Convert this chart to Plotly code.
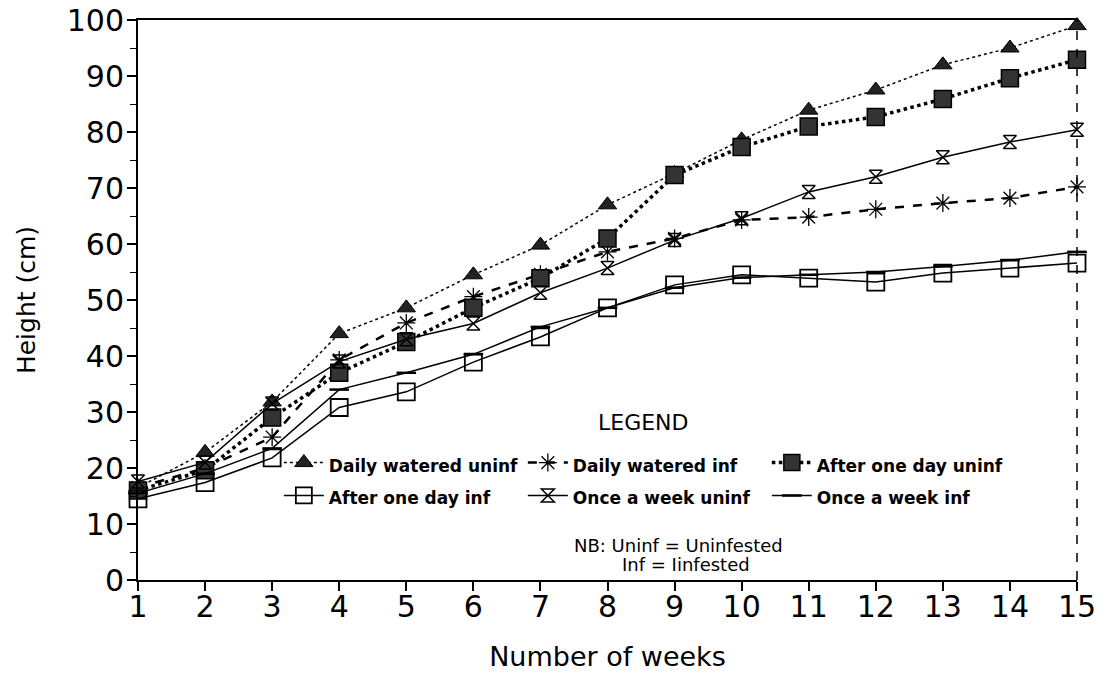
import plotly.graph_objects as go

weeks = list(range(1, 16))
week_labels = [str(w) for w in weeks]

daily_watered_uninf = [16.5, 22.8, 31.8, 44.0, 48.6, 54.5, 59.8, 67.0, 72.6, 78.6, 83.9, 87.5, 92.0, 95.0, 99.0]
daily_watered_inf = [16.5, 20.0, 25.5, 39.3, 45.9, 50.6, 54.6, 58.6, 61.0, 64.3, 64.8, 66.2, 67.3, 68.2, 70.2]
after_one_day_uninf = [16.0, 19.6, 29.0, 37.0, 42.5, 48.6, 53.9, 61.0, 72.3, 77.3, 81.0, 82.7, 85.9, 89.6, 92.9]
after_one_day_inf = [14.5, 17.4, 21.8, 30.8, 33.6, 38.9, 43.4, 48.6, 52.7, 54.5, 53.9, 53.2, 54.8, 55.7, 56.6]
once_week_uninf = [17.6, 21.0, 31.5, 39.0, 43.0, 45.8, 51.3, 55.7, 60.7, 64.6, 69.3, 72.0, 75.5, 78.2, 80.4]
once_week_inf = [15.5, 19.0, 23.5, 34.0, 37.0, 40.3, 45.2, 48.6, 52.2, 54.0, 54.5, 55.0, 56.0, 57.1, 58.6]

series = [
    ("Daily watered uninf", daily_watered_uninf,
     dict(color="black", width=1.5, dash="dot"),
     dict(symbol="triangle-up", size=16, color="#222222", line=dict(color="black", width=1))),
    ("Daily watered inf", daily_watered_inf,
     dict(color="black", width=2.5, dash="dash"),
     dict(symbol="asterisk-open", size=15, color="black", line=dict(color="black", width=1.3))),
    ("After one day uninf", after_one_day_uninf,
     dict(color="black", width=3.5, dash="dot"),
     dict(symbol="square", size=17, color="#333333", line=dict(color="black", width=1.5))),
    ("After one day inf", after_one_day_inf,
     dict(color="black", width=1.5),
     dict(symbol="square-open", size=17, color="black", line=dict(color="black", width=1.8))),
    ("Once a week uninf", once_week_uninf,
     dict(color="black", width=1.5),
     dict(symbol="hourglass-open", size=13, color="black", line=dict(color="black", width=1.5))),
    ("Once a week inf", once_week_inf,
     dict(color="black", width=1.5),
     dict(symbol="line-ew-open", size=14, color="black", line=dict(color="black", width=2.5))),
]

fig = go.Figure()
for name, vals, ln, mk in series:
    fig.add_trace(go.Scatter(
        x=weeks, y=vals,
        name='<span style="font-size:17px"><b>' + name + "</b></span>",
        mode="lines+markers", line=ln, marker=mk, cliponaxis=False,
    ))

fig.update_layout(
    width=1110, height=675,
    margin=dict(l=138, r=33, t=20, b=95, autoexpand=False),
    paper_bgcolor="white", plot_bgcolor="white",
    font=dict(family="DejaVu Sans", color="black"),
    showlegend=True,
    legend=dict(
        orientation="h", x=0.150, y=0.248, xanchor="left", yanchor="top",
        entrywidth=189, entrywidthmode="pixels", itemwidth=40,
        font=dict(family="DejaVu Sans", size=23, color="black"),
        bgcolor="rgba(0,0,0,0)", traceorder="normal",
    ),
    xaxis=dict(
        range=[1, 15], tickmode="array", tickvals=weeks, ticktext=week_labels,
        showgrid=False, zeroline=False, showline=True, linecolor="black", linewidth=2,
        mirror=True, ticks="outside", ticklen=9, tickwidth=1.5, tickcolor="black",
        tickfont=dict(family="DejaVu Sans", size=30), automargin=False, ticklabelstandoff=-10,
        ticklabeloverflow="allow",
        title=dict(text="Number of weeks", font=dict(family="DejaVu Sans", size=27), standoff=24),
    ),
    yaxis=dict(
        range=[0, 100], tickmode="linear", tick0=0, dtick=10,
        showgrid=False, zeroline=False, showline=True, linecolor="black", linewidth=2,
        ticks="outside", ticklen=9, tickwidth=1.5, tickcolor="black",
        minor=dict(ticks="outside", ticklen=6, tickwidth=1.2, tickcolor="black", dtick=5, tick0=0, showgrid=False),
        tickfont=dict(family="DejaVu Sans", size=30), automargin=False, ticklabelstandoff=-3,
        ticklabeloverflow="allow",
        title=dict(text="Height (cm)", font=dict(family="DejaVu Sans", size=25), standoff=24),
    ),
    shapes=[dict(type="line", xref="paper", yref="paper", x0=1, x1=1, y0=0, y1=1,
                 line=dict(color="black", width=1.5, dash="dash"))],
    annotations=[
        dict(text="LEGEND", xref="paper", yref="paper", x=(643 - 138) / 939, y=(580 - 422) / 560,
             xanchor="center", yanchor="middle",
             showarrow=False, font=dict(family="DejaVu Sans", size=22)),
        dict(text="NB: Uninf = Uninfested", xref="paper", yref="paper", x=(678 - 138) / 939, y=(580 - 545) / 560,
             xanchor="center", yanchor="middle",
             showarrow=False, font=dict(family="DejaVu Sans", size=18)),
        dict(text="Inf = Iinfested", xref="paper", yref="paper", x=(686 - 138) / 939, y=(580 - 564) / 560,
             xanchor="center", yanchor="middle",
             showarrow=False, font=dict(family="DejaVu Sans", size=18)),
    ],
)

# remove the default 8px page margin so the figure fills the window exactly
fig.write_html("out.html", config={"displayModeBar": False},
               post_script="document.body.style.margin='0';")
